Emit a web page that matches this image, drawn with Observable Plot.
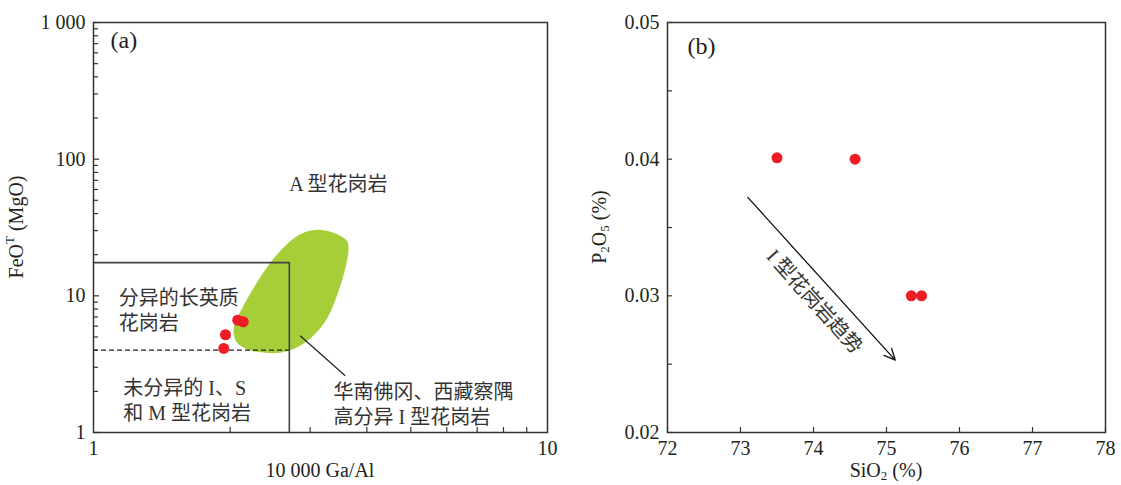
<!DOCTYPE html>
<html>
<head>
<meta charset="utf-8">
<script src="https://cdn.jsdelivr.net/npm/d3@7"></script>
<script src="https://cdn.jsdelivr.net/npm/@observablehq/plot@0.6"></script>
<style>
  body { margin: 0; background: #fff; }
  #wrap { display: flex; width: 1121px; height: 485px; }
  svg { overflow: visible; }
</style>
</head>
<body>
<div id="wrap"></div>
<script>
// ---------- (a) 10000Ga/Al vs FeOT/MgO ----------
const gaAl   = [2.078, 2.137, 1.953, 1.936];
const feoMgo = [6.64, 6.45, 5.19, 4.12];

// outline of the highly fractionated I-type field (South China / Tibet)
const fieldGaAl   = [3.106, 3.373, 3.615, 3.645, 3.584, 3.437, 3.267, 3.048, 2.853, 2.685, 2.535, 2.364, 2.177, 2.069, 2.034, 2.052, 2.140, 2.291, 2.471, 2.667, 2.853];
const fieldFeoMgo = [30.4, 29.0, 25.3, 21.96, 15.76, 10.0, 6.79, 5.10, 4.31, 3.96, 3.81, 3.85, 4.07, 4.55, 5.39, 6.38, 8.45, 12.51, 18.03, 23.89, 28.27];

// FG / OTG box and dashed lower boundary
const boxGaAl   = [1, 2.7, 2.7];
const boxFeoMgo = [17.5, 17.5, 1];
const dashFeoMgo = 4;

// leader from the field to its label
const leaderGaAl   = [2.853, 3.584];
const leaderFeoMgo = [5.10, 2.60];

const aYTicks = [1, 10, 100, 1000];
const aYTickLabels = ["1", "10", "100", "1 000"];
const aXTicks = [1, 10];
const aXTickLabels = ["1", "10"];

const aLabels = ["A 型花岗岩", "分异的长英质\n花岗岩", "未分异的 I、S\n和 M 型花岗岩", "华南佛冈、西藏察隅\n高分异 I 型花岗岩"];
const aLabelGaAl   = [2.698, 1.136, 1.163, 3.379];
const aLabelFeoMgo = [67.1, 7.93, 1.755, 1.635];

// ---------- (b) SiO2 vs P2O5 ----------
const sio2 = [73.50, 74.57, 75.34, 75.48];
const p2o5 = [0.0401, 0.0400, 0.0300, 0.0300];

const trendSio2 = [73.10, 75.12];
const trendP2o5 = [0.0372, 0.0253];
const trendLabel = "I 型花岗岩趋势";
const trendLabelSio2 = 74.01;
const trendLabelP2o5 = 0.02958;

const bXTicks = [72, 73, 74, 75, 76, 77, 78];
const bYTicks = [0.02, 0.03, 0.04, 0.05];
const bYMinor = [0.025, 0.035, 0.045];

// ---------- shared styling ----------
const H = 485, MT = 22, MB = 53;
const INK = "#231f20";
const GREEN = "#a6ce39";
const RED = "#ee1c25";
const FONT = "'Liberation Serif', 'Noto Sans CJK SC', serif";
const style = { fontFamily: FONT, fontSize: "20px", color: INK, background: "#fff" };

function yLabel(svg, x, y, parts) {
  const t = d3.select(svg).append("text")
    .attr("transform", `translate(${x},${y}) rotate(-90)`)
    .attr("text-anchor", "middle")
    .attr("dominant-baseline", "middle")
    .attr("fill", INK)
    .attr("font-family", FONT)
    .attr("font-size", 20);
  parts.forEach(p => addPart(t, p));
}
function xLabel(svg, x, y, parts) {
  const t = d3.select(svg).append("text")
    .attr("x", x).attr("y", y)
    .attr("text-anchor", "middle")
    .attr("dominant-baseline", "middle")
    .attr("fill", INK)
    .attr("font-family", FONT)
    .attr("font-size", 20);
  parts.forEach(p => addPart(t, p));
}
function addPart(t, [s, kind]) {
  const span = t.append("tspan").text(s);
  if (kind === "sup") span.attr("font-size", 13).attr("dy", -7);
  if (kind === "sub") span.attr("font-size", 13).attr("dy", 5);
  if (kind === "afterSup") span.attr("dy", 7);
  if (kind === "afterSub") span.attr("dy", -5);
}

// ---------- panel (a) ----------
const W1 = 560, ML1 = 93, MR1 = 13;
const innerW1 = W1 - ML1 - MR1, innerH = H - MT - MB;
const decades = [1, 10, 100];
const aYMinor = decades.flatMap(d => d3.range(2, 10).map(k => k * d));
const aXMinor = d3.range(2, 10);
const fieldIdx = d3.range(fieldGaAl.length);

const plotA = Plot.plot({
  width: W1, height: H,
  marginLeft: ML1, marginRight: MR1, marginTop: MT, marginBottom: MB,
  style,
  x: { type: "log", domain: [1, 10], axis: null },
  y: { type: "log", domain: [1, 1000], axis: null },
  marks: [
    Plot.line(fieldIdx, { x: i => fieldGaAl[i], y: i => fieldFeoMgo[i], curve: "catmull-rom-closed", fill: GREEN, stroke: "none" }),
    Plot.line(d3.range(3), { x: i => boxGaAl[i], y: i => boxFeoMgo[i], stroke: "#444", strokeWidth: 1.6 }),
    Plot.ruleY([dashFeoMgo], { x1: 1, x2: boxGaAl[1], stroke: "#222", strokeWidth: 1.2, strokeDasharray: "5,3" }),
    Plot.link([0], { x1: leaderGaAl[0], y1: leaderFeoMgo[0], x2: leaderGaAl[1], y2: leaderFeoMgo[1], stroke: "#222", strokeWidth: 1.2 }),
    Plot.dot(d3.range(gaAl.length), { x: i => gaAl[i], y: i => feoMgo[i], r: 5.5, fill: RED, stroke: "none" }),
    // inward ticks
    Plot.tickY(aYTicks, { y: d => d, insetRight: innerW1 - 6, stroke: "#333", strokeWidth: 1.2 }),
    Plot.tickY(aYMinor, { y: d => d, insetRight: innerW1 - 5, stroke: "#333", strokeWidth: 1.2 }),
    Plot.tickX(aXMinor, { x: d => d, insetTop: innerH - 5, stroke: "#333", strokeWidth: 1.2 }),
    Plot.axisY(aYTicks, { tickSize: 0, tickPadding: 8, tickFormat: d => aYTickLabels[aYTicks.indexOf(d)], fontSize: 20, fill: INK }),
    Plot.axisX(aXTicks, { tickSize: 0, tickPadding: 8, tickFormat: d => aXTickLabels[aXTicks.indexOf(d)], fontSize: 20, fill: INK }),
    Plot.text(aLabels, { x: (d, i) => aLabelGaAl[i], y: (d, i) => aLabelFeoMgo[i], textAnchor: "start", lineAnchor: "middle", lineHeight: 1.27, fontSize: 20, fill: "#333" }),
    Plot.text(["(a)"], { frameAnchor: "top-left", dx: 17, dy: 8, textAnchor: "start", lineAnchor: "top", fontSize: 24, fill: INK }),
    Plot.frame({ stroke: "#333", strokeWidth: 1.5 })
  ]
});
yLabel(plotA, 18, 227, [["FeO"], ["T", "sup"], [" (MgO)", "afterSup"]]);
xLabel(plotA, ML1 + innerW1 / 2, 472, [["10 000 Ga/Al"]]);

// ---------- panel (b) ----------
const W2 = 561, ML2 = 107, MR2 = 16;
const innerW2 = W2 - ML2 - MR2;

const plotB = Plot.plot({
  width: W2, height: H,
  marginLeft: ML2, marginRight: MR2, marginTop: MT, marginBottom: MB,
  style,
  x: { domain: [72, 78], axis: null },
  y: { domain: [0.02, 0.05], axis: null },
  marks: [
    Plot.arrow([0], { x1: trendSio2[0], y1: trendP2o5[0], x2: trendSio2[1], y2: trendP2o5[1], stroke: "#111", strokeWidth: 1.3, headLength: 14, headAngle: 50 }),
    Plot.text([trendLabel], { x: trendLabelSio2, y: trendLabelP2o5, rotate: 48, textAnchor: "middle", lineAnchor: "middle", fontSize: 20, fill: "#333" }),
    Plot.dot(d3.range(sio2.length), { x: i => sio2[i], y: i => p2o5[i], r: 5.5, fill: RED, stroke: "none" }),
    Plot.tickY(bYTicks.concat(bYMinor), { y: d => d, insetRight: innerW2 - 5, stroke: "#333", strokeWidth: 1.2 }),
    Plot.tickX(bXTicks, { x: d => d, insetTop: innerH - 5, stroke: "#333", strokeWidth: 1.2 }),
    Plot.axisY(bYTicks, { tickSize: 0, tickPadding: 8, tickFormat: d3.format(".2f"), fontSize: 20, fill: INK }),
    Plot.axisX(bXTicks, { tickSize: 0, tickPadding: 8, tickFormat: d => String(d), fontSize: 20, fill: INK }),
    Plot.text(["(b)"], { frameAnchor: "top-left", dx: 20, dy: 14, textAnchor: "start", lineAnchor: "top", fontSize: 24, fill: INK }),
    Plot.frame({ stroke: "#333", strokeWidth: 1.5 })
  ]
});
yLabel(plotB, 41, 227, [["P"], ["2", "sub"], ["O", "afterSub"], ["5", "sub"], [" (%)", "afterSub"]]);
xLabel(plotB, ML2 + innerW2 / 2, 472, [["SiO"], ["2", "sub"], [" (%)", "afterSub"]]);

const wrap = document.getElementById("wrap");
wrap.appendChild(plotA);
wrap.appendChild(plotB);
</script>
</body>
</html>
